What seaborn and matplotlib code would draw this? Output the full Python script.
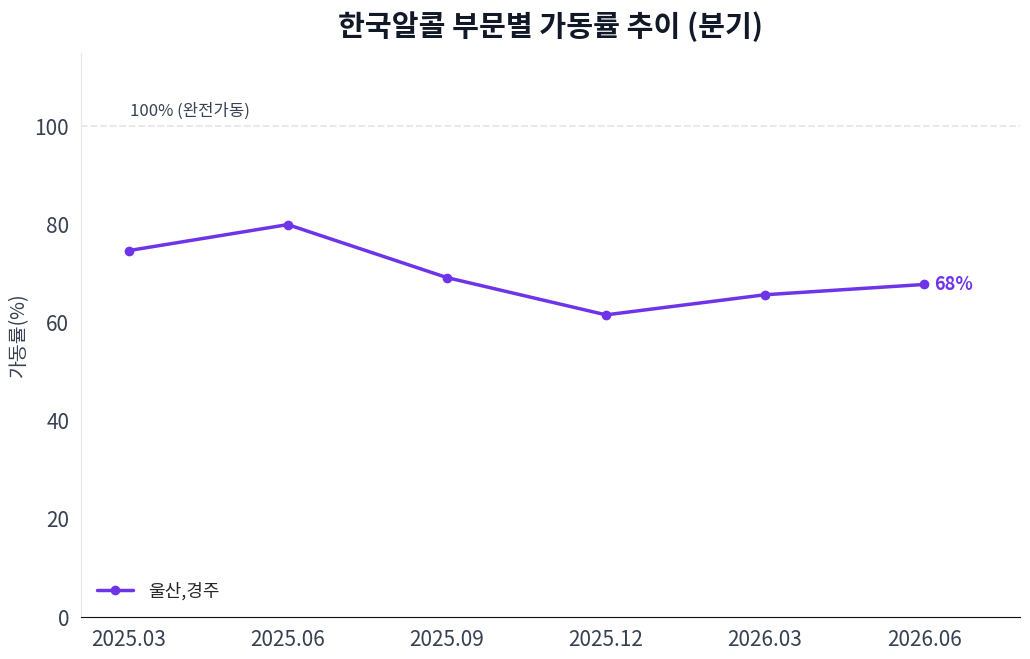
import numpy as np
import pandas as pd
import seaborn as sns
import matplotlib.pyplot as plt

quarters = ['2025.03', '2025.06', '2025.09', '2025.12', '2026.03', '2026.06']
rates = [74.7, 80.0, 69.2, 61.6, 65.7, 67.8]
series_name = '울산,경주'

sns.set_style('white')
plt.rcParams['font.family'] = ['Noto Sans CJK KR', 'DejaVu Sans']
plt.rcParams['axes.unicode_minus'] = False

color = '#6D34E8'
text_color = '#374151'

df = pd.DataFrame({'분기': quarters, '가동률': rates, '구분': series_name})
df['idx'] = np.arange(len(quarters))

fig = plt.figure(figsize=(10.3, 6.59), dpi=100)
ax = fig.add_axes([0.0786, 0.0637, 0.9114, 0.8560])

sns.lineplot(data=df, x='idx', y='가동률', hue='구분', palette=[color],
             marker='o', markersize=7, markeredgewidth=0, linewidth=2.5, ax=ax)

ax.axhline(100, color='#e5e7eb', linestyle='--', linewidth=1.3, zorder=0)
ax.text(0.01, 101.3, '100% (완전가동)', fontsize=12, color=text_color, ha='left', va='bottom')

ax.text(len(quarters) - 1 + 0.065, rates[-1], f'{rates[-1]:.0f}%', fontsize=13,
        fontweight='bold', color=color, ha='left', va='center')

ax.set_xticks(df['idx'])
ax.set_xticklabels(quarters)
ax.set_xlim(-0.3, 5.6)
ax.set_ylim(0, 115)
ax.set_yticks([0, 20, 40, 60, 80, 100])
ax.tick_params(axis='both', labelsize=15, colors=text_color, length=5, width=1)
ax.set_xlabel('')
ax.set_ylabel('가동률(%)', fontsize=14, color=text_color)

for side in ['top', 'right']:
    ax.spines[side].set_visible(False)
ax.spines['left'].set_color('#e5e7eb')
ax.spines['bottom'].set_color('#111111')

ax.set_title('한국알콜 부문별 가동률 추이 (분기)', fontsize=21, fontweight='bold',
             color='#111827', pad=12)

leg = ax.legend(loc='lower left', frameon=False, fontsize=13, handlelength=2.0)
leg.set_title(None)

fig.savefig('out.png', dpi=100)
